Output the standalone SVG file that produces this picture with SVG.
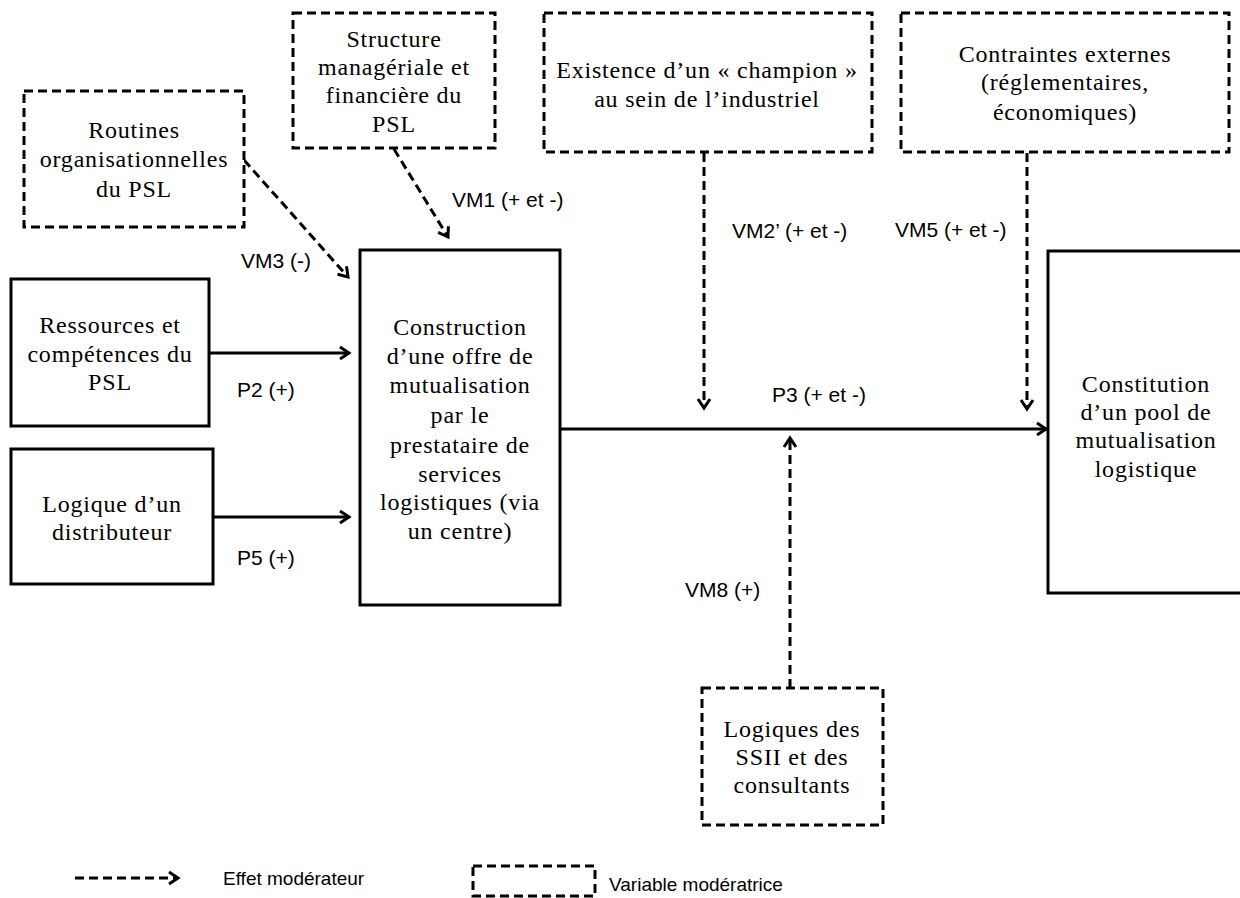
<svg xmlns="http://www.w3.org/2000/svg" width="1240" height="898" viewBox="0 0 1240 898">
<style>
.solid{fill:#fff;stroke:#000;stroke-width:3}
.dash{fill:#fff;stroke:#000;stroke-width:3;stroke-dasharray:9,5}
.t{font-family:"Liberation Serif","Times New Roman",serif;font-size:24px;fill:#000;text-anchor:middle;letter-spacing:0.8px}
.l{font-family:"Liberation Sans",Arial,sans-serif;font-size:21px;fill:#000}
.lg{font-family:"Liberation Sans",Arial,sans-serif;font-size:19px;fill:#000}
.c{fill:none;stroke:#000;stroke-width:3}
.cd{fill:none;stroke:#000;stroke-width:3;stroke-dasharray:9,5}
</style>
<defs>
<marker id="arr" markerWidth="14" markerHeight="16" refX="11" refY="8" orient="auto" markerUnits="userSpaceOnUse">
<path d="M2,2 L11,8 L2,14" fill="none" stroke="#000" stroke-width="3"/>
</marker>
</defs>
<rect width="1240" height="898" fill="#fff"/>

<g id="connectors">
<line class="c" x1="210" y1="353" x2="349" y2="353" marker-end="url(#arr)"/>
<line class="c" x1="213" y1="517" x2="349" y2="517" marker-end="url(#arr)"/>
<line class="c" x1="561" y1="429" x2="1046" y2="429" marker-end="url(#arr)"/>
<line class="cd" x1="244" y1="160" x2="348" y2="277" marker-end="url(#arr)"/>
<line class="cd" x1="394" y1="149" x2="448" y2="237" marker-end="url(#arr)"/>
<line class="cd" x1="704" y1="153" x2="704" y2="408" marker-end="url(#arr)"/>
<line class="cd" x1="1027" y1="153" x2="1027" y2="409" marker-end="url(#arr)"/>
<line class="cd" x1="790" y1="688" x2="790" y2="438" marker-end="url(#arr)"/>
<text class="l" x="241" y="268">VM3 (-)</text>
<text class="l" x="452" y="207">VM1 (+ et -)</text>
<text class="l" x="732" y="238">VM2’ (+ et -)</text>
<text class="l" x="895" y="237">VM5 (+ et -)</text>
<text class="l" x="237" y="397">P2 (+)</text>
<text class="l" x="237" y="565">P5 (+)</text>
<text class="l" x="772" y="402">P3 (+ et -)</text>
<text class="l" x="685" y="597">VM8 (+)</text>
</g>

<g id="routines">
<rect class="dash" x="24" y="91" width="220" height="136"/>
<text class="t" x="134" y="138">Routines</text>
<text class="t" x="134" y="167">organisationnelles</text>
<text class="t" x="134" y="197">du PSL</text>
</g>

<g id="structure">
<rect class="dash" x="293" y="13" width="202" height="135"/>
<text class="t" x="394" y="47">Structure</text>
<text class="t" x="394" y="75">managériale et</text>
<text class="t" x="394" y="103">financière du</text>
<text class="t" x="394" y="132">PSL</text>
</g>

<g id="champion">
<rect class="dash" x="544" y="13" width="328" height="139"/>
<text class="t" x="707" y="78">Existence d’un « champion »</text>
<text class="t" x="707" y="107">au sein de l’industriel</text>
</g>

<g id="contraintes">
<rect class="dash" x="901" y="13" width="328" height="139"/>
<text class="t" x="1065" y="62">Contraintes externes</text>
<text class="t" x="1065" y="90">(réglementaires,</text>
<text class="t" x="1065" y="120">économiques)</text>
</g>

<g id="ressources">
<rect class="solid" x="11" y="279" width="198" height="147"/>
<text class="t" x="110" y="333">Ressources et</text>
<text class="t" x="110" y="362">compétences du</text>
<text class="t" x="110" y="390">PSL</text>
</g>

<g id="distributeur">
<rect class="solid" x="11" y="449" width="202" height="135"/>
<text class="t" x="112" y="512">Logique d’un</text>
<text class="t" x="112" y="540">distributeur</text>
</g>

<g id="construction">
<rect class="solid" x="360" y="250" width="200" height="355"/>
<text class="t" x="460" y="335">Construction</text>
<text class="t" x="460" y="364">d’une offre de</text>
<text class="t" x="460" y="393">mutualisation</text>
<text class="t" x="460" y="423">par le</text>
<text class="t" x="460" y="453">prestataire de</text>
<text class="t" x="460" y="482">services</text>
<text class="t" x="460" y="510">logistiques (via</text>
<text class="t" x="460" y="539">un centre)</text>
</g>

<g id="constitution">
<rect class="solid" x="1048" y="251" width="200" height="342"/>
<text class="t" x="1146" y="392">Constitution</text>
<text class="t" x="1146" y="420">d’un pool de</text>
<text class="t" x="1146" y="448">mutualisation</text>
<text class="t" x="1146" y="477">logistique</text>
</g>

<g id="ssii">
<rect class="dash" x="702" y="688" width="181" height="137"/>
<text class="t" x="792" y="737">Logiques des</text>
<text class="t" x="792" y="765">SSII et des</text>
<text class="t" x="792" y="793">consultants</text>
</g>

<g id="legend">
<line class="cd" x1="75" y1="878" x2="178" y2="878" marker-end="url(#arr)"/>
<text class="lg" x="223" y="885">Effet modérateur</text>
<rect class="dash" x="473" y="866" width="122" height="30"/>
<text class="lg" x="609" y="891">Variable modératrice</text>
</g>
</svg>
